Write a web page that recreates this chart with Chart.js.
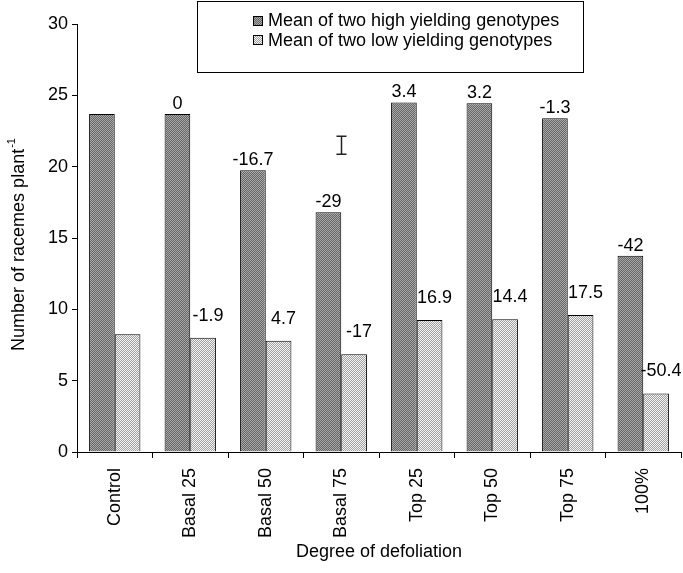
<!DOCTYPE html>
<html>
<head>
<meta charset="utf-8">
<script src="https://cdn.jsdelivr.net/npm/chart.js@4/dist/chart.umd.min.js"></script>
<style>
html,body{margin:0;padding:0;background:#fff;}
#wrap{width:683px;height:573px;position:relative;}
</style>
</head>
<body>
<div id="wrap"><canvas id="c" width="683" height="573"></canvas></div>
<script>
const categories = ['Control', 'Basal 25', 'Basal 50', 'Basal 75', 'Top 25', 'Top 50', 'Top 75', '100%'];
const highYield = [23.7, 23.7, 19.75, 16.8, 24.5, 24.45, 23.4, 13.75];
const lowYield = [8.25, 8.0, 7.8, 6.85, 9.25, 9.3, 9.6, 4.1];
const highLabels = ['', '0', '-16.7', '-29', '3.4', '3.2', '-1.3', '-42'];
const lowLabels = ['', '-1.9', '4.7', '-17', '16.9', '14.4', '17.5', '-50.4'];
const seriesNames = ['Mean of two high yielding genotypes', 'Mean of two low yielding genotypes'];
const yTicks = [0, 5, 10, 15, 20, 25, 30];
const lsdCategory = 'Basal 75';
const lsdCenter = 21.5;
const lsdHalf = 0.63;

const FONT = '"Liberation Sans", Arial, sans-serif';
const FS = 18;

function makePattern(c1, c2) {
  const p = document.createElement('canvas');
  p.width = 2; p.height = 2;
  const g = p.getContext('2d');
  g.fillStyle = c1; g.fillRect(0, 0, 2, 2);
  g.fillStyle = c2; g.fillRect(0, 0, 1, 1); g.fillRect(1, 1, 1, 1);
  return g.createPattern(p, 'repeat');
}
const darkFill = makePattern('#666666', '#a8a8a8');
const lightFill = makePattern('#a0a0a0', '#f4f4f4');

const overlay = {
  id: 'overlay',
  afterDatasetsDraw(chart) {
    const ctx = chart.ctx;
    const ca = chart.chartArea;
    ctx.save();
    ctx.fillStyle = '#000';
    ctx.font = FS + 'px ' + FONT;
    const m0 = chart.getDatasetMeta(0), m1 = chart.getDatasetMeta(1);
    ctx.textAlign = 'center';
    ctx.textBaseline = 'middle';
    m0.data.forEach((b, i) => { if (highLabels[i]) ctx.fillText(highLabels[i], b.x, b.y - 10); });
    m1.data.forEach((b, i) => { if (lowLabels[i]) ctx.fillText(lowLabels[i], b.x + 5, b.y - 22); });
    // LSD bar
    const xs = chart.scales.x, ys = chart.scales.y;
    const lx = Math.round(xs.getPixelForValue(categories.indexOf(lsdCategory))) + 0.5;
    const yt = ys.getPixelForValue(lsdCenter + lsdHalf), yb = ys.getPixelForValue(lsdCenter - lsdHalf);
    ctx.strokeStyle = '#222'; ctx.lineWidth = 1.5;
    ctx.beginPath();
    ctx.moveTo(lx, yt); ctx.lineTo(lx, yb);
    ctx.moveTo(lx - 5, yt); ctx.lineTo(lx + 5, yt);
    ctx.moveTo(lx - 5, yb); ctx.lineTo(lx + 5, yb);
    ctx.stroke();
    // legend
    ctx.lineWidth = 1; ctx.strokeStyle = '#000';
    ctx.fillStyle = '#fff';
    ctx.fillRect(197.5, 1.5, 386, 71);
    ctx.strokeRect(197.5, 1.5, 386, 71);
    const fills = [darkFill, lightFill];
    ctx.textAlign = 'left';
    seriesNames.forEach((n, i) => {
      const cy = 20.5 + i * 19.5;
      ctx.fillStyle = fills[i];
      ctx.fillRect(253.5, Math.round(cy - 5) + 0.5, 9, 9);
      ctx.strokeRect(253.5, Math.round(cy - 5) + 0.5, 9, 9);
      ctx.fillStyle = '#000';
      ctx.fillText(n, 268, cy + 1);
    });
    // x title
    ctx.textAlign = 'center';
    ctx.fillText('Degree of defoliation', (ca.left + ca.right) / 2, 552);
    // y title with superscript
    ctx.translate(19, 245);
    ctx.rotate(-Math.PI / 2);
    const main = 'Number of racemes plant', sup = '-1';
    ctx.font = FS + 'px ' + FONT;
    const w1 = ctx.measureText(main).width;
    ctx.font = '11px ' + FONT;
    const w2 = ctx.measureText(sup).width;
    const start = -(w1 + w2) / 2;
    ctx.textAlign = 'left';
    ctx.font = FS + 'px ' + FONT;
    ctx.fillText(main, start, 0);
    ctx.font = '11px ' + FONT;
    ctx.fillText(sup, start + w1 + 1, -7);
    ctx.restore();
  }
};

new Chart(document.getElementById('c'), {
  type: 'bar',
  data: {
    labels: categories,
    datasets: [
      { label: seriesNames[0], data: highYield, backgroundColor: darkFill, borderColor: '#000', borderWidth: 1 },
      { label: seriesNames[1], data: lowYield, backgroundColor: lightFill, borderColor: '#000', borderWidth: 1 }
    ]
  },
  options: {
    responsive: false,
    animation: false,
    devicePixelRatio: 1,
    layout: { padding: { top: 24, right: 2, left: 0, bottom: 0 } },
    plugins: { legend: { display: false }, tooltip: { enabled: false } },
    datasets: { bar: { categoryPercentage: 0.68, barPercentage: 1.0 } },
    scales: {
      x: {
        afterFit: s => { s.height = 121; },
        grid: { offset: true, drawOnChartArea: false, tickLength: 6, color: '#000' },
        border: { color: '#000', width: 1 },
        ticks: { color: '#000', font: { family: FONT, size: FS }, maxRotation: 90, minRotation: 90, padding: 10 }
      },
      y: {
        min: 0, max: 30,
        afterFit: s => { s.width = 77; },
        afterBuildTicks: s => { s.ticks = yTicks.map(v => ({ value: v })); },
        grid: { drawOnChartArea: false, tickLength: 5, color: '#000' },
        border: { color: '#000', width: 1 },
        ticks: { color: '#000', font: { family: FONT, size: FS }, padding: 4 }
      }
    }
  },
  plugins: [overlay]
});
</script>
</body>
</html>
